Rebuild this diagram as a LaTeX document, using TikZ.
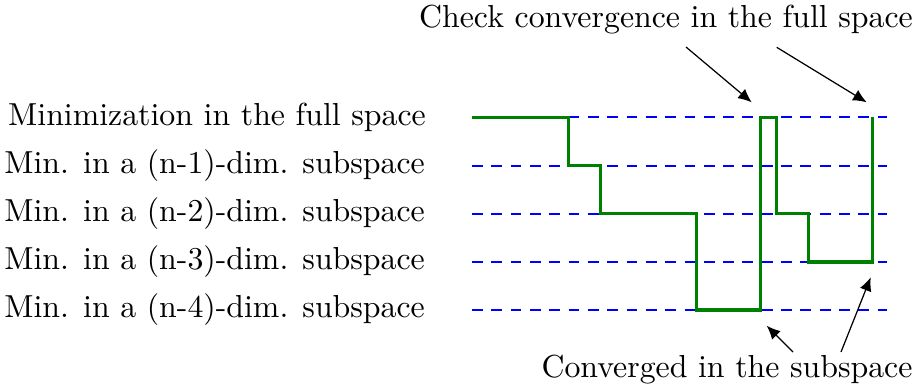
\documentclass[tikz,border=0pt]{standalone}
\usetikzlibrary{arrows.meta}
\begin{document}
\begin{tikzpicture}[x=0.3235pt,y=-0.3235pt,
  levelline/.style={draw=blue,line width=0.6pt,dash pattern=on 3.5pt off 2.75pt},
  walk/.style={draw=green!50!black,line width=1pt},
  lab/.style={anchor=east,inner sep=0pt,font=\fontsize{10.3}{12}\selectfont},
  note/.style={inner sep=0pt,font=\fontsize{10.3}{12}\selectfont},
  pointer/.style={draw=black,line width=0.4pt,-{Latex[length=4.4pt,width=3.9pt]}}]
\useasboundingbox (0,0) rectangle (921,391);
\node[lab] (t0) at (426.5,117.2) {Minimization in the full space};
\node[lab] (t1) at (425.5,165.7) {Min. in a (n-1)-dim. subspace};
\node[lab] (t2) at (425.5,213.7) {Min. in a (n-2)-dim. subspace};
\node[lab] (t3) at (425.5,262) {Min. in a (n-3)-dim. subspace};
\node[lab] (t4) at (425.5,310) {Min. in a (n-4)-dim. subspace};
% levels
\coordinate (A0) at (472,117.2); \coordinate (B0) at (887,117.2);
\coordinate (A1) at (472,165.7); \coordinate (B1) at (887,165.7);
\coordinate (A2) at (472,213.7); \coordinate (B2) at (887,213.7);
\coordinate (A3) at (472,262);   \coordinate (B3) at (887,262);
\coordinate (A4) at (472,310);   \coordinate (B4) at (887,310);
\draw[levelline] (A0) -- (B0);
\draw[levelline] (A1) -- (B1);
\draw[levelline] (A2) -- (B2);
\draw[levelline] (A3) -- (B3);
\draw[levelline] (A4) -- (B4);
% walk
\draw[walk] (472,117.2) -- (568.3,117.2) -- (568.3,165.7) -- (600.3,165.7)
  -- (600.3,213.7) -- (696.3,213.7) -- (696.3,310) -- (760.7,310)
  -- (760.7,117.2) -- (776.7,117.2) -- (776.7,213.7) -- (808.7,213.7)
  -- (808.7,262) -- (872.7,262) -- (872.7,117.2);
% notes
\node[note] (chk) at (666,20) {Check convergence in the full space};
\node[note] (cvg) at (727,370) {Converged in the subspace};
\coordinate (c1s) at (686,47);
\coordinate (c1e) at (751.7,102.3);
\coordinate (c2s) at (776.7,47.3);
\coordinate (c2e) at (866.7,102.3);
\coordinate (v1s) at (793,352);
\coordinate (v1e) at (766.7,325.7);
\coordinate (v2s) at (841,352);
\coordinate (v2e) at (870.7,277.3);
\draw[pointer] (c1s) -- (c1e);
\draw[pointer] (c2s) -- (c2e);
\draw[pointer] (v1s) -- (v1e);
\draw[pointer] (v2s) -- (v2e);
\end{tikzpicture}
\end{document}
